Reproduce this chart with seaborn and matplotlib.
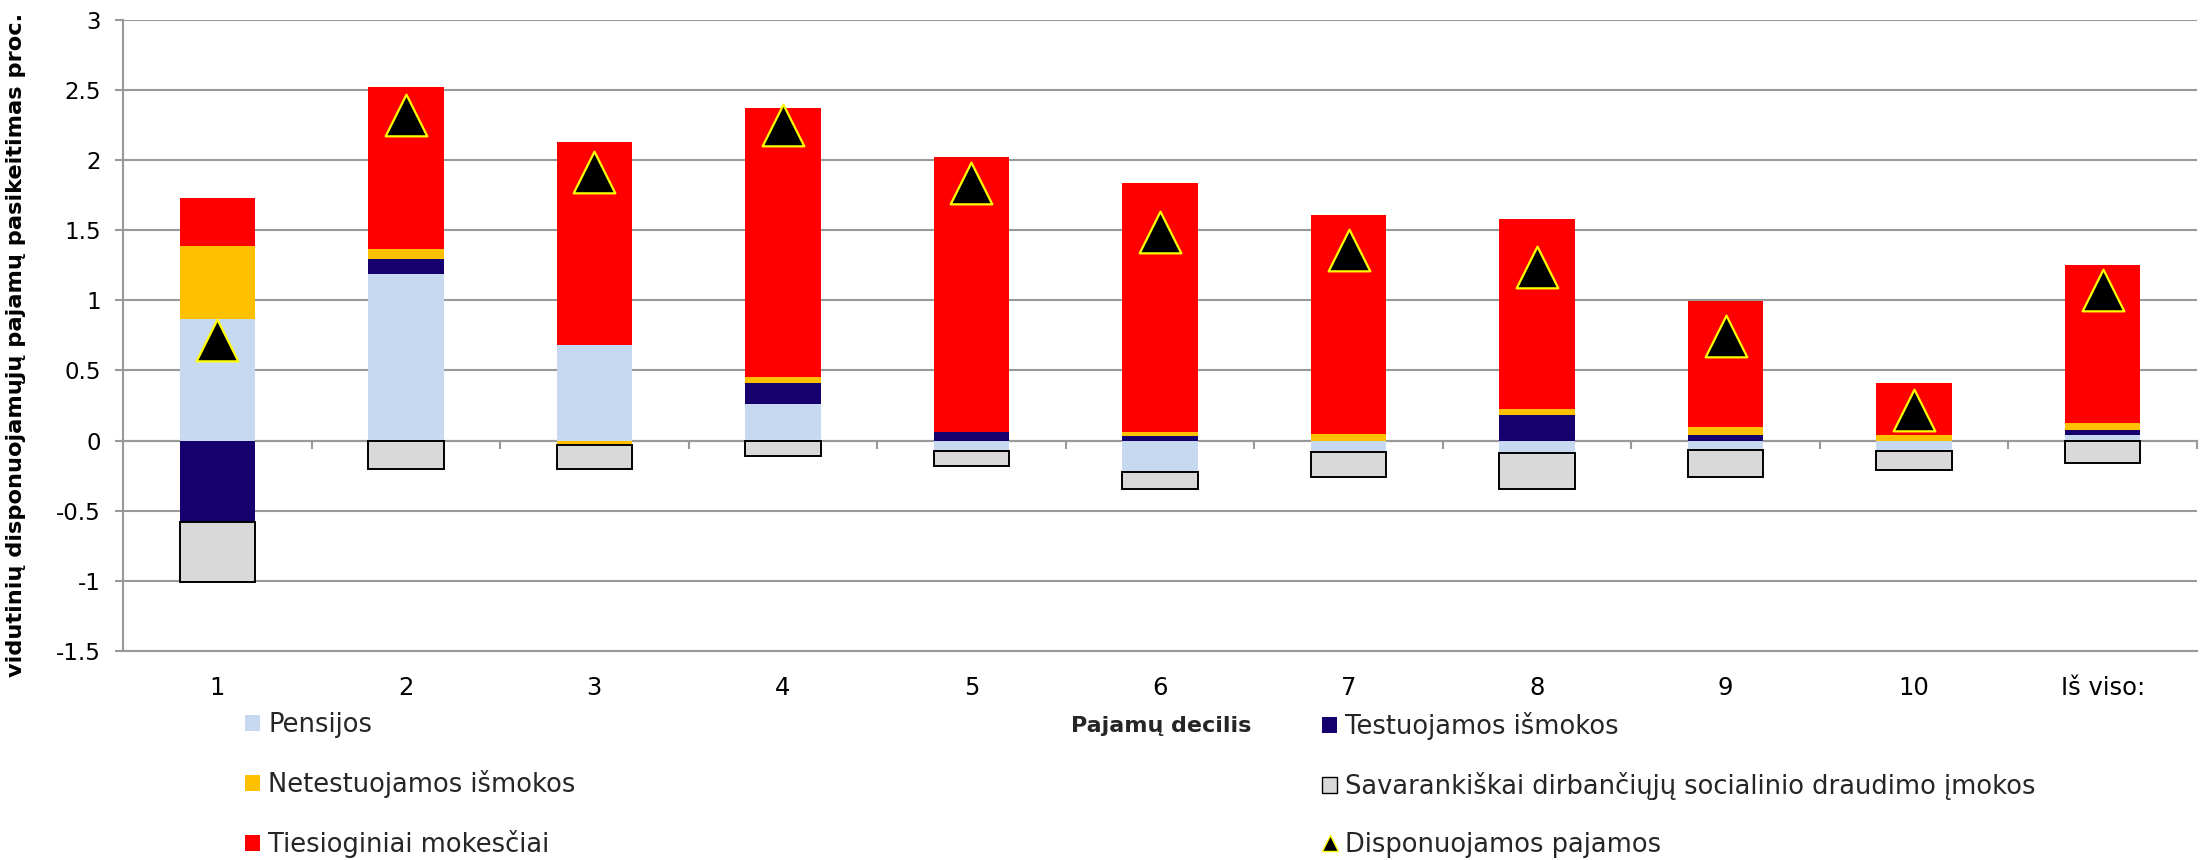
import numpy as np
import matplotlib
matplotlib.use("Agg")
import matplotlib.pyplot as plt
import seaborn as sns
from matplotlib.patches import Patch
from matplotlib.lines import Line2D

# ---- data ----
categories = ["1", "2", "3", "4", "5", "6", "7", "8", "9", "10", "Iš viso:"]
pensijos = [0.866, 1.186, 0.679, 0.259, -0.078, -0.228, -0.080, -0.090, -0.069, -0.078, 0.038]
testuojamos = [-0.581, 0.107, 0.0, 0.154, 0.064, 0.029, 0.0, 0.183, 0.036, 0.0, 0.038]
netestuojamos = [0.520, 0.074, -0.030, 0.036, 0.0, 0.035, 0.047, 0.043, 0.062, 0.040, 0.050]
tiesioginiai = [0.341, 1.150, 1.446, 1.918, 1.953, 1.772, 1.559, 1.352, 0.898, 0.368, 1.122]
savarankiskai = [-0.429, -0.204, -0.176, -0.114, -0.107, -0.116, -0.183, -0.254, -0.188, -0.131, -0.160]
disponuojamos = [0.717, 2.317, 1.915, 2.246, 1.838, 1.486, 1.357, 1.238, 0.747, 0.217, 1.075]

series_names = ["Pensijos", "Testuojamos išmokos", "Netestuojamos išmokos",
                "Tiesioginiai mokesčiai",
                "Savarankiškai dirbančiųjų socialinio draudimo įmokos"]
series_values = [pensijos, testuojamos, netestuojamos, tiesioginiai, savarankiskai]
series_colors = ["#C6D9F1", "#16006E", "#FFC000", "#FF0000", "#D9D9D9"]
line_name = "Disponuojamos pajamos"
y_ticks = [-1.5, -1.0, -0.5, 0.0, 0.5, 1.0, 1.5, 2.0, 2.5, 3.0]
y_tick_labels = ["-1.5", "-1", "-0.5", "0", "0.5", "1", "1.5", "2", "2.5", "3"]
y_label = "vidutinių disponuojamųjų pajamų pasikeitimas proc."
x_label = "Pajamų decilis"

# ---- style ----
sns.set_theme(style="white")
plt.rcParams["font.family"] = ["DejaVu Sans"]
plt.rcParams["axes.unicode_minus"] = False
GRID = "#999999"
FS = 17.5
LFS = 18.5

W, H = 2206, 860
fig = plt.figure(figsize=(W / 100, H / 100), dpi=100)
ax = fig.add_axes([123 / W, 1 - 651 / H, (2197 - 123) / W, (651 - 19.5) / H])

n = len(categories)
pos_base = np.zeros(n)
neg_base = np.zeros(n)
for name, vals, col in zip(series_names, series_values, series_colors):
    v = np.asarray(vals, dtype=float)
    bottom = np.where(v >= 0, pos_base, neg_base)
    is_gray = col == "#D9D9D9"
    sns.barplot(x=categories, y=v, bottom=bottom, color=col, width=0.4,
                saturation=1, errorbar=None, order=categories, ax=ax,
                edgecolor="black" if is_gray else "none",
                linewidth=1.4 if is_gray else 0, zorder=2)
    pos_base += np.clip(v, 0, None)
    neg_base += np.clip(v, None, 0)

sns.scatterplot(x=categories, y=disponuojamos, marker="^", s=900,
                color="black", edgecolor="#FFFF00", linewidth=1.6,
                ax=ax, zorder=6, legend=False)

ax.set_xlim(-0.5, n - 0.5)
ax.set_ylim(-1.5, 3)
ax.set_yticks(y_ticks)
ax.set_yticklabels(y_tick_labels)
ax.set_xticks(range(n))
ax.set_xticklabels(categories)
ax.tick_params(axis="y", which="both", left=True, direction="out", length=6,
               width=1.5, color=GRID, pad=10, labelsize=16.5, labelcolor="black")
ax.tick_params(axis="x", which="both", bottom=False, length=0, pad=18,
               labelsize=FS, labelcolor="black")
ax.yaxis.grid(True, color=GRID, linewidth=1.5)
ax.xaxis.grid(False)
ax.set_axisbelow(True)
for s in ["top", "right"]:
    ax.spines[s].set_visible(False)
for s in ["left", "bottom"]:
    ax.spines[s].set_color(GRID)
    ax.spines[s].set_linewidth(1.5)
ax.set_xlabel("")
ax.set_ylabel(y_label, fontsize=16.2, fontweight="bold", color="black")
ax.yaxis.set_label_coords(-0.047, 0.485)

# zero axis with category-boundary ticks
sec = ax.secondary_xaxis(1 / 3)
sec.set_xticks(np.arange(-0.5, n, 1.0))
sec.set_xticklabels([])
sec.tick_params(axis="x", direction="out", length=6, width=1.5, color=GRID)
sec.spines["bottom"].set_color(GRID)
sec.spines["bottom"].set_linewidth(1.5)
sec.set_zorder(1)

# x label
fig.text(1161 / W, 1 - 726 / H, x_label, ha="center", va="center",
         fontsize=16, fontweight="bold")

# legends
handles = {nm: Patch(facecolor=c, edgecolor="black" if c == "#D9D9D9" else "none",
                     linewidth=1.0)
           for nm, c in zip(series_names, series_colors)}
tri = Line2D([], [], marker="^", linestyle="none", color="black",
             markeredgecolor="#FFFF00", markeredgewidth=1.0, markersize=11)
common = dict(loc="upper left", frameon=False, fontsize=LFS, handlelength=0.6,
              handleheight=0.6, handletextpad=0.3, labelspacing=1.24,
              borderpad=0, borderaxespad=0)
fig.legend(handles=[handles[series_names[0]], handles[series_names[2]], handles[series_names[3]]],
           labels=[series_names[0], series_names[2], series_names[3]],
           bbox_to_anchor=(245 / W, 1 - 712 / H), **common)
fig.legend(handles=[handles[series_names[1]], handles[series_names[4]], tri],
           labels=[series_names[1], series_names[4], line_name],
           bbox_to_anchor=(1322 / W, 1 - 712 / H), **common)

fig.savefig("out.png", dpi=100)
